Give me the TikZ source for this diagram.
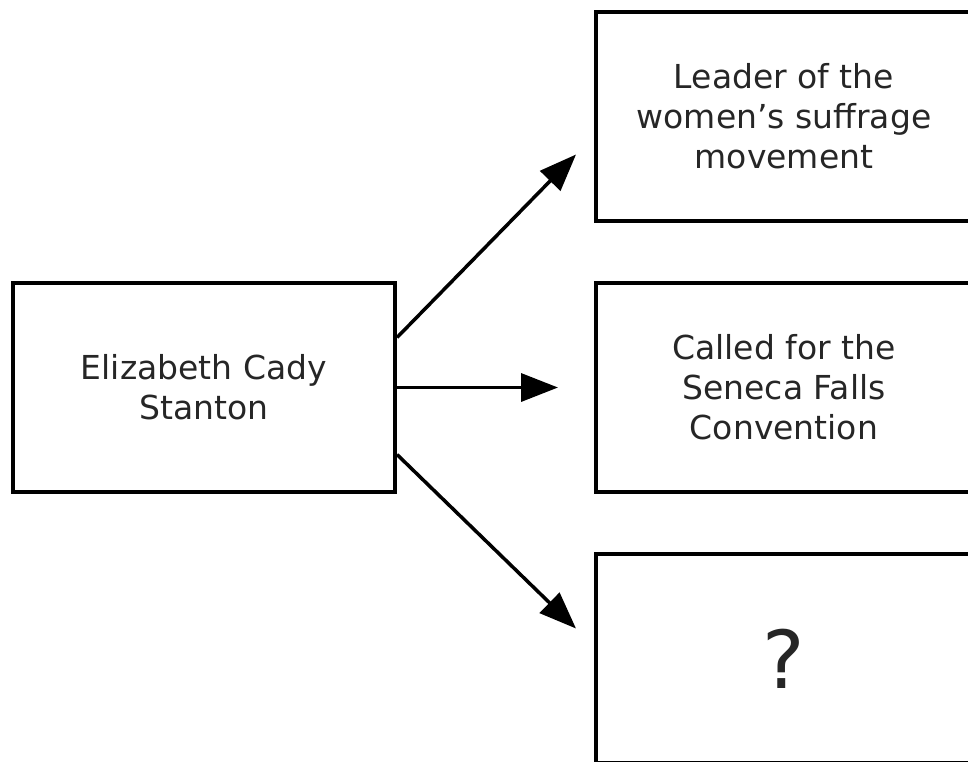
\documentclass[tikz,border=0pt]{standalone}
\usepackage{fontspec}
\setmainfont{DejaVu Sans}
\usetikzlibrary{arrows.meta}

\begin{document}
\begin{tikzpicture}[x=1pt, y=-1pt,
	every node/.style={font=\fontsize{33}{40}\selectfont, text=black!85},
	box/.style={draw, line width=4pt, minimum width=382pt, minimum height=209pt, align=center, inner sep=0pt},
	arr/.style={line width=3.5pt, -{Triangle[length=37pt,width=28pt]}}]
	\useasboundingbox (0,0) rectangle (968,761);
	\clip (0,0) rectangle (968,761);
	\node[box] (ecs) at (204,387.5) {Elizabeth Cady\\Stanton};
	\node[box, minimum width=376pt] (leader) at (784,116.5) {Leader of the\\women's suffrage\\movement};
	\node[box, minimum width=376pt] (seneca) at (784,387.5) {Called for the\\Seneca Falls\\Convention};
	\node[box, minimum width=376pt, font=\fontsize{80}{84}\selectfont] (unknown) at (784,658.5) {?};
	\draw[arr] ([yshift=50pt]ecs.east) -- ([xshift=-18pt,yshift=-38pt]leader.west);
	\draw[arr] (ecs.east) -- ([xshift=-36pt]seneca.west);
	\draw[arr] ([yshift=-67pt]ecs.east) -- ([xshift=-18pt,yshift=30pt]unknown.west);
\end{tikzpicture}
\end{document}
